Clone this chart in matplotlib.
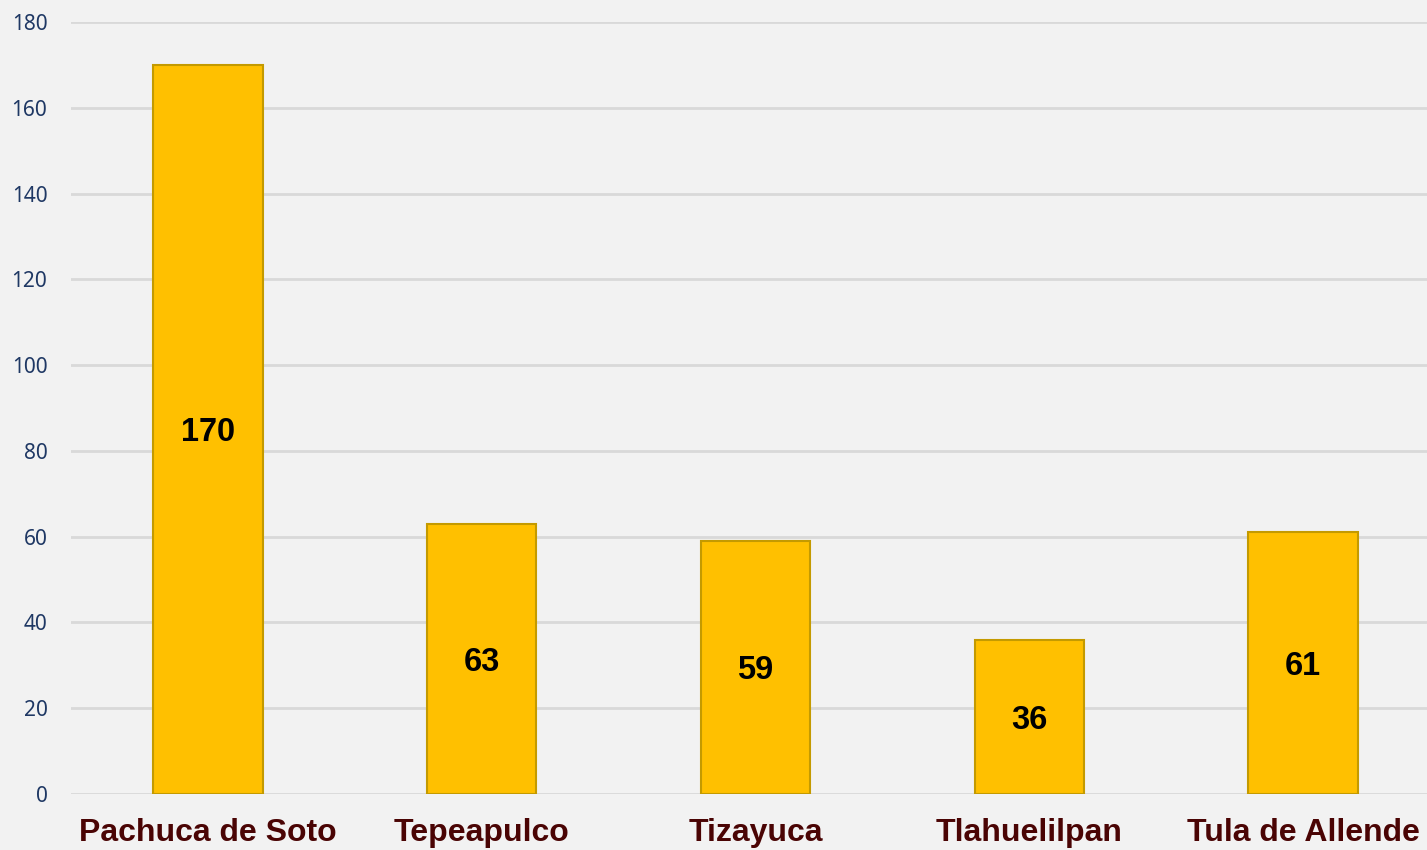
import matplotlib
matplotlib.use("Agg")
import matplotlib.pyplot as plt

categories = ["Pachuca de Soto", "Tepeapulco", "Tizayuca", "Tlahuelilpan", "Tula de Allende"]
values = [170, 63, 59, 36, 61]
yticks = [0, 20, 40, 60, 80, 100, 120, 140, 160, 180]

W, H = 1427, 850
fig = plt.figure(figsize=(W / 100, H / 100), dpi=100, facecolor="#f2f2f2")
ax = fig.add_axes([71 / W, (H - 794) / H, 1369 / W, 772 / H])
ax.set_facecolor("#f2f2f2")

x = list(range(len(categories)))
bars = ax.bar(x, values, width=0.4, color="#ffc000", edgecolor="#c49a00", linewidth=1.5, zorder=3)
for xi, v in zip(x, values):
    ax.text(xi, v / 2, str(v), ha="center", va="center_baseline", fontsize=23.5, fontweight="bold",
            family="Liberation Sans", color="black", zorder=4)

ax.set_xlim(-0.5, 4.5)
ax.set_ylim(0, 180)
ax.set_yticks(yticks)
ax.set_yticklabels([str(t) for t in yticks], family="Noto Sans", fontsize=15, color="#1f3864")
ax.set_xticks(x)
ax.set_xticklabels(categories, family="Liberation Sans", fontsize=23, fontweight="bold", color="#4a0404")
ax.tick_params(axis="both", length=0)
ax.tick_params(axis="y", pad=17)
ax.tick_params(axis="x", pad=17)
ax.grid(axis="y", color="#d9d9d9", linewidth=2, zorder=0)
ax.set_axisbelow(True)
for s in ax.spines.values():
    s.set_visible(False)

fig.savefig("out.png", dpi=100, facecolor="#f2f2f2")
